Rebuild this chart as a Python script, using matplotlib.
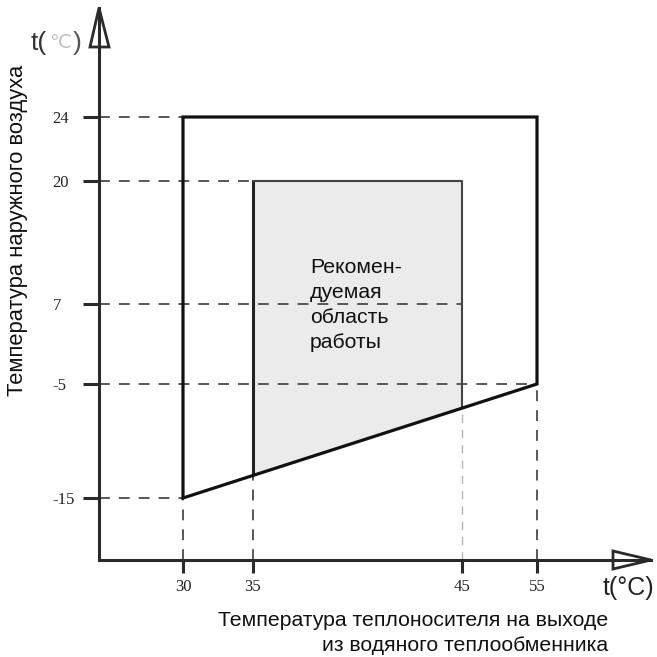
import numpy as np
import matplotlib
matplotlib.use("Agg")
import matplotlib.pyplot as plt
from matplotlib.patches import Polygon

# ---------------- data ----------------
x_ticks = [30, 35, 45, 55]
x_tick_labels = ["30", "35", "45", "55"]
y_ticks = [-15, -5, 7, 20, 24]
y_tick_labels = ["-15", "-5", "7", "20", "24"]

# outer operating envelope (water outlet temp, outdoor temp)
outer_x = [30, 30, 55, 55]
outer_y = [-15, 24, 24, -5]
# recommended area
inner_x = [35, 35, 45, 45]
inner_y = [-13, 20, 20, -7]

inner_text = "Рекомен-\nдуемая\nобласть\nработы"
y_label = "Температура наружного воздуха"
x_label = "Температура теплоносителя на выходе\nиз водяного теплообменника"

# ---------------- layout (schematic, non-uniform axis) ----------------
W = H = 657
X_PIX = [183, 253, 462, 537]          # pixel positions of x ticks
Y_PIX = [159, 273, 353, 476, 540]     # pixel positions (from bottom) of y ticks
AX_L, AX_R = 99, 651                  # y-axis x position, x arrow tip
AX_B, AX_T = 97, 649                  # x-axis y position (from bottom), y arrow tip


def make_maps(vals, pix):
    vals = np.asarray(vals, float)
    pix = np.asarray(pix, float)

    def mapper(a, b):
        def f(v):
            v = np.asarray(v, float)
            shp = v.shape
            v = np.atleast_1d(v).astype(float)
            out = np.interp(v, a, b)
            lo = v < a[0]
            hi = v > a[-1]
            out[lo] = b[0] + (v[lo] - a[0]) * (b[1] - b[0]) / (a[1] - a[0])
            out[hi] = b[-1] + (v[hi] - a[-1]) * (b[-1] - b[-2]) / (a[-1] - a[-2])
            return out.reshape(shp)
        return f
    return mapper(vals, pix), mapper(pix, vals)


fx, ix = make_maps(x_ticks, X_PIX)
fy, iy = make_maps(y_ticks, Y_PIX)

fig = plt.figure(figsize=(W / 100, H / 100), dpi=100)
ax = fig.add_axes([AX_L / W, AX_B / H, (AX_R - AX_L) / W, (AX_T - AX_B) / H])
ax.set_xscale("function", functions=(fx, ix))
ax.set_yscale("function", functions=(fy, iy))
xmin, xmax = float(ix(AX_L)), float(ix(AX_R))
ymin, ymax = float(iy(AX_B)), float(iy(AX_T))
ax.set_xlim(xmin, xmax)
ax.set_ylim(ymin, ymax)
ax.patch.set_alpha(0)

for s in ("top", "right"):
    ax.spines[s].set_visible(False)
for s in ("left", "bottom"):
    ax.spines[s].set_linewidth(2.2)
    ax.spines[s].set_color("#2a2a2a")

ax.set_xticks(x_ticks)
ax.set_xticklabels(x_tick_labels)
ax.set_yticks(y_ticks)
ax.set_yticklabels(y_tick_labels)
ax.tick_params(axis="both", which="major", width=2.2, color="#2a2a2a",
               labelsize=12, labelcolor="#222222")
ax.tick_params(axis="x", direction="out", length=9.5, pad=4)
ax.tick_params(axis="y", direction="out", length=11.5, pad=22)
for lab in ax.get_yticklabels():
    lab.set_horizontalalignment("left")
    lab.set_family("Liberation Serif")
for lab in ax.get_xticklabels():
    lab.set_family("Liberation Serif")
ax.minorticks_off()

# recommended area fill
ax.add_patch(Polygon(list(zip(inner_x, inner_y)), closed=True,
                     facecolor="#ebebeb", edgecolor="none", zorder=1))

# dashed guide lines
dash = dict(color="#4a4a4a", lw=1.3, dashes=(6, 5), zorder=2)
h_end = {24: 30, 20: 35, 7: 45, -5: 55, -15: 30}
for yv in y_ticks:
    ax.plot([xmin, h_end[yv]], [yv, yv], **dash)
v_end = {30: -15, 35: inner_y[0], 45: inner_y[-1], 55: -5}
for xv in x_ticks:
    d = dict(dash)
    if xv == 45:
        d.update(color="#b5b5b5", lw=1.0)
    ax.plot([xv, xv], [ymin, v_end[xv]], **d)

# inner edges
ax.plot(inner_x[:2], inner_y[:2], color="#222222", lw=2.2, zorder=3,
        solid_capstyle="butt")
ax.plot(inner_x[1:], inner_y[1:], color="#444444", lw=1.5, zorder=3)

# outer envelope
ax.add_patch(Polygon(list(zip(outer_x, outer_y)), closed=True,
                     facecolor="none", edgecolor="#111111", lw=2.3,
                     joinstyle="miter", zorder=4))

# ---------------- overlay (decorations in pixel coords) ----------------
ov = fig.add_axes([0, 0, 1, 1], zorder=5)
ov.set_xlim(0, W)
ov.set_ylim(H, 0)
ov.axis("off")
ov.patch.set_alpha(0)

# arrow heads (hollow with stem)
ov.add_patch(Polygon([(99, 8), (90, 47), (109, 47)], closed=True,
                     facecolor="white", edgecolor="#2a2a2a", lw=2.0,
                     joinstyle="miter"))
ov.plot([99, 99], [10, 47], color="#2a2a2a", lw=2.2)
ov.add_patch(Polygon([(651, 560), (613, 551), (613, 569)], closed=True,
                     facecolor="white", edgecolor="#2a2a2a", lw=2.0,
                     joinstyle="miter"))
ov.plot([613, 649], [560, 560], color="#2a2a2a", lw=2.2)

# axis symbols
ov.text(31, 43, "t(", fontsize=19, family="Liberation Sans", color="#333333",
        ha="left", va="center")
ov.text(60, 43, "℃", fontsize=14, family="DejaVu Sans", color="#c0c0c0",
        ha="center", va="center")
ov.text(73, 43, ")", fontsize=19, family="Liberation Sans", color="#555555",
        ha="left", va="center")
ov.text(628, 588, "t(°C)", fontsize=18, family="Liberation Sans",
        color="#222222", ha="center", va="center")

# labels
ov.text(18, 230, y_label, rotation=90, fontsize=15.8, family="Liberation Sans",
        color="#111111", ha="center", va="center")
ov.text(608, 633, x_label, fontsize=15.3, family="Liberation Sans",
        color="#111111", ha="right", va="center", multialignment="right",
        linespacing=1.4)
ov.text(310, 305, inner_text, fontsize=15.3, family="Liberation Sans",
        color="#111111", ha="left", va="center", linespacing=1.4)

fig.savefig("out.png", dpi=100)
